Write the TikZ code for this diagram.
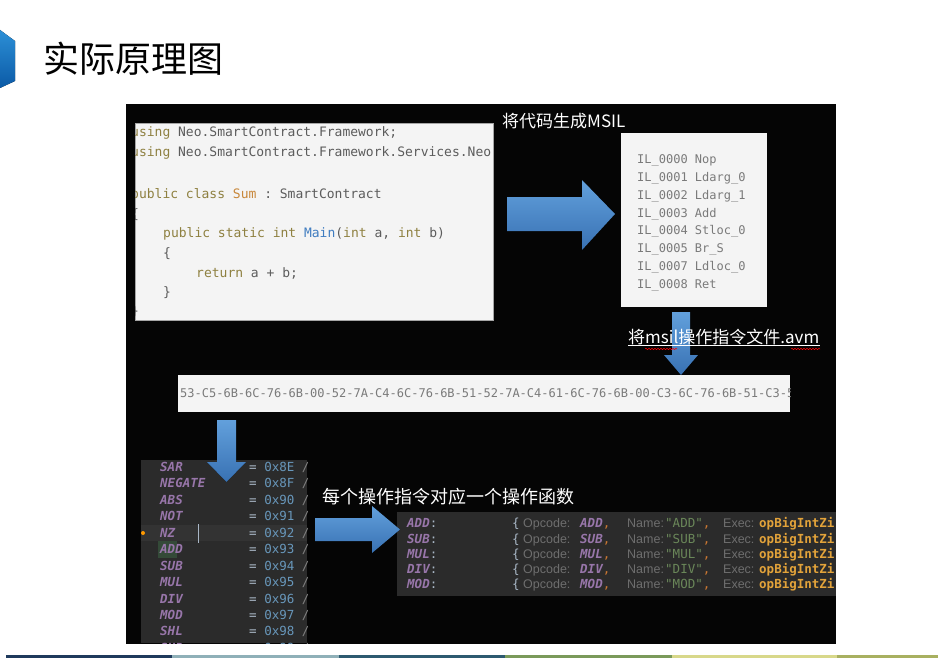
\documentclass[tikz,border=0pt]{standalone}
\usepackage{fontspec}
\setmonofont{DejaVu Sans Mono}
\newfontfamily\cjk{Noto Sans CJK SC}
\newfontfamily\uisans{Liberation Sans}
\usetikzlibrary{decorations.pathmorphing}
\tikzset{>=latex}

\definecolor{panelblack}{HTML}{050505}
\definecolor{logolight}{HTML}{2C8FD6}
\definecolor{logodark}{HTML}{0B5AA6}
\definecolor{arrowtop}{HTML}{62A0DC}
\definecolor{arrowbot}{HTML}{3871B3}
\definecolor{codebg}{HTML}{F4F4F4}
\definecolor{codegray}{HTML}{5C5C5C}
\definecolor{kwolive}{HTML}{8E8040}
\definecolor{clsorange}{HTML}{C8873A}
\definecolor{mainblue}{HTML}{3F7CC0}
\definecolor{ilgray}{HTML}{7A7A7A}
\definecolor{idebg}{HTML}{2B2B2B}
\definecolor{idecur}{HTML}{333333}
\definecolor{idepurple}{HTML}{9876AA}
\definecolor{idehex}{HTML}{6897BB}
\definecolor{idefg}{HTML}{A9B7C6}
\definecolor{idecomment}{HTML}{808080}
\definecolor{idegreen}{HTML}{6A8759}
\definecolor{ideorange}{HTML}{CC7832}
\definecolor{idegold}{HTML}{E3A33A}
\definecolor{idelabel}{HTML}{6E6E6E}
\definecolor{idemark}{HTML}{344A38}
\definecolor{barnavy}{HTML}{1F3A5C}
\definecolor{barmist}{HTML}{8FB0B8}
\definecolor{barteal}{HTML}{2D5A70}
\definecolor{barolive}{HTML}{7A9A5A}
\definecolor{barlime}{HTML}{D8D88A}
\definecolor{barmoss}{HTML}{A8B060}

\newcommand{\kw}[1]{\textcolor{kwolive}{#1}}
\newcommand{\enumrow}[2]{\makebox[89pt][l]{\bfseries\itshape\color{idepurple}#1}{\color{idefg}=} {\color{idehex}0x#2} {\color{idecomment}/}}
\newcommand{\tabrow}[1]{\makebox[105pt][l]{{\bfseries\itshape\color{idepurple}#1}{\color{idefg}:}}%
  \makebox[11pt][l]{\color{idefg}\{}%
  \makebox[57pt][l]{\uisans\color{idelabel}Opcode:}%
  \makebox[47pt][l]{{\bfseries\itshape\color{idepurple}#1}{\color{ideorange},}}%
  \makebox[38pt][l]{\uisans\color{idelabel}Name:}%
  \makebox[58pt][l]{{\color{idegreen}"#1"}{\color{ideorange},}}%
  \makebox[36pt][l]{\uisans\color{idelabel}Exec:}%
  {\bfseries\color{idegold}opBigIntZi}}

\tikzset{
  boxnode/.style={anchor=north west,inner sep=0pt,draw=none},
  codeline/.style={anchor=west,inner sep=0pt,text=codegray,font=\ttfamily\fontsize{13}{13}\selectfont},
  illine/.style={anchor=west,inner sep=0pt,text=ilgray,font=\ttfamily\fontsize{12}{12}\selectfont},
  iderow/.style={anchor=west,inner sep=0pt,font=\ttfamily\fontsize{12.5}{12.5}\selectfont},
  cjklabel/.style={anchor=west,inner sep=0pt,text=white,font=\cjk\fontsize{17}{17}\selectfont},
  blockarrow/.style={top color=arrowtop,bottom color=arrowbot,draw=none},
  spell/.style={red,line width=0.5pt,decorate,decoration={snake,amplitude=0.7pt,segment length=3pt}}
}

\begin{document}
\begin{tikzpicture}[x=1pt,y=-1pt]
  \useasboundingbox (0,0) rectangle (938,661);
  \fill[white] (0,0) rectangle (938,661);

  % Title
  \fill[top color=logolight,bottom color=logodark] (0,30) -- (15,41) -- (15,81) -- (0,88) -- cycle;
  \node[anchor=west,inner sep=0pt,font=\cjk\fontsize{36}{36}\selectfont] (title) at (43,59) {实际原理图};

  % Screen
  \node[boxnode,fill=panelblack,minimum width=710pt,minimum height=540pt] (screen) at (126,104) {};

  % Source code
  \node[boxnode,fill=codebg,draw=gray!70,minimum width=358pt,minimum height=197pt] (codebox) at (135,123) {};
  \begin{scope}
    \clip (codebox.south west) rectangle (codebox.north east);
    \node[codeline] (src1) at (131,133) {\kw{using} Neo.SmartContract.Framework;};
    \node[codeline] (src2) at (131,153) {\kw{using} Neo.SmartContract.Framework.Services.Neo};
    \node[codeline] (src3) at (131,195) {\kw{public class} \textcolor{clsorange}{Sum} : SmartContract};
    \node[codeline] (src4) at (131,215) {\{};
    \node[codeline] (src5) at (163,234) {\kw{public static int} \textcolor{mainblue}{Main}(\kw{int} a, \kw{int} b)};
    \node[codeline] (src6) at (163,254) {\{};
    \node[codeline] (src7) at (196,273) {\kw{return} a + b;};
    \node[codeline] (src8) at (163,293) {\}};
    \node[codeline] (src9) at (131,312) {\}};
  \end{scope}

  % MSIL
  \node[boxnode,fill=codebg,minimum width=146pt,minimum height=174pt] (ilbox) at (621,133) {};
  \node[illine] (il0) at (637,160) {IL\_0000 Nop};
  \node[illine] (il1) at (637,178) {IL\_0001 Ldarg\_0};
  \node[illine] (il2) at (637,196) {IL\_0002 Ldarg\_1};
  \node[illine] (il3) at (637,214) {IL\_0003 Add};
  \node[illine] (il4) at (637,231) {IL\_0004 Stloc\_0};
  \node[illine] (il5) at (637,249) {IL\_0005 Br\_S};
  \node[illine] (il6) at (637,267) {IL\_0007 Ldloc\_0};
  \node[illine] (il7) at (637,285) {IL\_0008 Ret};

  % avm bytes
  \node[boxnode,fill=codebg,minimum width=612pt,minimum height=37pt] (hexbar) at (178,375) {};
  \begin{scope}
    \clip (hexbar.south west) rectangle (hexbar.north east);
    \node[illine] (hexcode) at (180,393) {53-C5-6B-6C-76-6B-00-52-7A-C4-6C-76-6B-51-52-7A-C4-61-6C-76-6B-00-C3-6C-76-6B-51-C3-51-6C};
  \end{scope}

  % Opcode enum
  \node[boxnode,fill=idebg,minimum width=166pt,minimum height=183pt] (enumpanel) at (141,460) {};
  \begin{scope}
    \clip (enumpanel.south west) rectangle (enumpanel.north east);
    \fill[idecur] (141,525) rectangle (307,541);
    \fill[idemark] (158,541) rectangle (177,558);
    \draw[idefg,line width=1pt] (198,524) -- (198,543);
    \fill[orange!80!yellow] (143,533) circle (2);
    \node[iderow] (opSAR) at (160,467) {\enumrow{SAR}{8E}};
    \node[iderow] (opNEGATE) at (160,483.5) {\enumrow{NEGATE}{8F}};
    \node[iderow] (opABS) at (160,500) {\enumrow{ABS}{90}};
    \node[iderow] (opNOT) at (160,516.5) {\enumrow{NOT}{91}};
    \node[iderow] (opNZ) at (160,533) {\enumrow{NZ}{92}};
    \node[iderow] (opADD) at (160,549.5) {\enumrow{ADD}{93}};
    \node[iderow] (opSUB) at (160,566) {\enumrow{SUB}{94}};
    \node[iderow] (opMUL) at (160,582.5) {\enumrow{MUL}{95}};
    \node[iderow] (opDIV) at (160,599) {\enumrow{DIV}{96}};
    \node[iderow] (opMOD) at (160,615) {\enumrow{MOD}{97}};
    \node[iderow] (opSHL) at (160,631.5) {\enumrow{SHL}{98}};
    \node[iderow] (opSHR) at (160,648) {\enumrow{SHR}{99}};
  \end{scope}

  % Jump table
  \node[boxnode,fill=idebg,minimum width=439pt,minimum height=84pt] (optable) at (397,512) {};
  \begin{scope}
    \clip (optable.south west) rectangle (optable.north east);
    \node[iderow] (fnADD) at (407,524) {\tabrow{ADD}};
    \node[iderow] (fnSUB) at (407,539.5) {\tabrow{SUB}};
    \node[iderow] (fnMUL) at (407,554.5) {\tabrow{MUL}};
    \node[iderow] (fnDIV) at (407,570) {\tabrow{DIV}};
    \node[iderow] (fnMOD) at (407,585) {\tabrow{MOD}};
  \end{scope}

  % Arrows
  \fill[blockarrow] (507,197) -- (582,197) -- (582,180) -- (615,214) -- (582,250) -- (582,231) -- (507,231) -- cycle;
  \fill[blockarrow] (672,312) -- (690,312) -- (690,355) -- (698,355) -- (681,375) -- (664,355) -- (672,355) -- cycle;
  \fill[blockarrow] (217,420) -- (236,420) -- (236,462) -- (246,462) -- (226.5,482) -- (207,462) -- (217,462) -- cycle;
  \fill[blockarrow] (315,518) -- (372,518) -- (372,506) -- (400,529.5) -- (372,553) -- (372,541) -- (315,541) -- cycle;

  % Labels
  \node[cjklabel] (msillabel) at (502,121) {将代码生成MSIL};
  \node[cjklabel] (avmlabel) at (628,337) {将msil操作指令文件.avm};
  \draw[white,line width=0.8pt] (avmlabel.south west) -- (avmlabel.south east);
  \draw[spell] (645,349) -- (677,349);
  \draw[spell] (791,349) -- (820,349);
  \node[cjklabel,font=\cjk\fontsize{18}{18}\selectfont] (execlabel) at (322,497) {每个操作指令对应一个操作函数};

  % Footer bar
  \fill[barnavy] (6,655) rectangle (172,658);
  \fill[barmist] (172,655) rectangle (339,658);
  \fill[barteal] (339,655) rectangle (505,658);
  \fill[barolive] (505,655) rectangle (672,658);
  \fill[barlime] (672,655) rectangle (837,658);
  \fill[barmoss] (837,655) rectangle (938,658);
\end{tikzpicture}
\end{document}
